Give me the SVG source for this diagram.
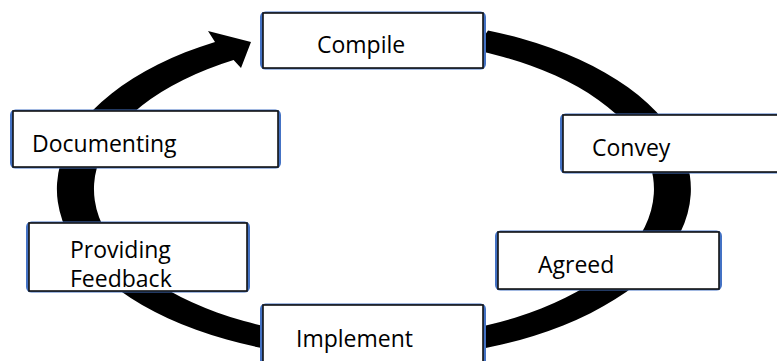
<svg xmlns="http://www.w3.org/2000/svg" width="777" height="361" viewBox="0 0 777 361">
<style>
.hl{fill:none;stroke:#4472C4;stroke-width:3}
.box{fill:#fff;stroke:#111;stroke-width:1.6}
.lbl{font-family:"Open Sans","Noto Sans","DejaVu Sans",sans-serif;font-size:23px;fill:#000}
</style>
<rect width="777" height="361" fill="#fff"/>
<g id="connectors">
<path d="M488,30.4 A317,170 0 1 1 215,41.9 L208,31 L251,42 L241,68 L233.6,60.1 A280,149 0 1 0 474.7,50 Z" fill="#000"/>
</g>
<g id="compile">
<rect class="hl" x="261.5" y="13" width="223" height="55" rx="4"/>
<rect class="box" x="263" y="13" width="220" height="55"/>
<text class="lbl" x="317" y="53">Compile</text>
</g>
<g id="documenting">
<rect class="hl" x="11.5" y="111" width="268" height="56" rx="4"/>
<rect class="box" x="13" y="111" width="265" height="56"/>
<text class="lbl" x="32" y="152">Documenting</text>
</g>
<g id="convey">
<rect class="hl" x="561.5" y="115" width="231" height="57" rx="4"/>
<rect class="box" x="563" y="115" width="228" height="57"/>
<text class="lbl" x="592" y="156">Convey</text>
</g>
<g id="providing-feedback">
<rect class="hl" x="27.5" y="223" width="221" height="68" rx="4"/>
<rect class="box" x="29" y="223" width="218" height="68"/>
<text class="lbl" x="70" y="258">Providing</text>
<text class="lbl" x="70" y="287">Feedback</text>
</g>
<g id="agreed">
<rect class="hl" x="496.5" y="232" width="224" height="57" rx="4"/>
<rect class="box" x="498" y="232" width="221" height="57"/>
<text class="lbl" x="538" y="273">Agreed</text>
</g>
<g id="implement">
<rect class="hl" x="261.5" y="305" width="223" height="69" rx="4"/>
<rect class="box" x="263" y="305" width="220" height="69"/>
<text class="lbl" x="296" y="347">Implement</text>
</g>
</svg>
